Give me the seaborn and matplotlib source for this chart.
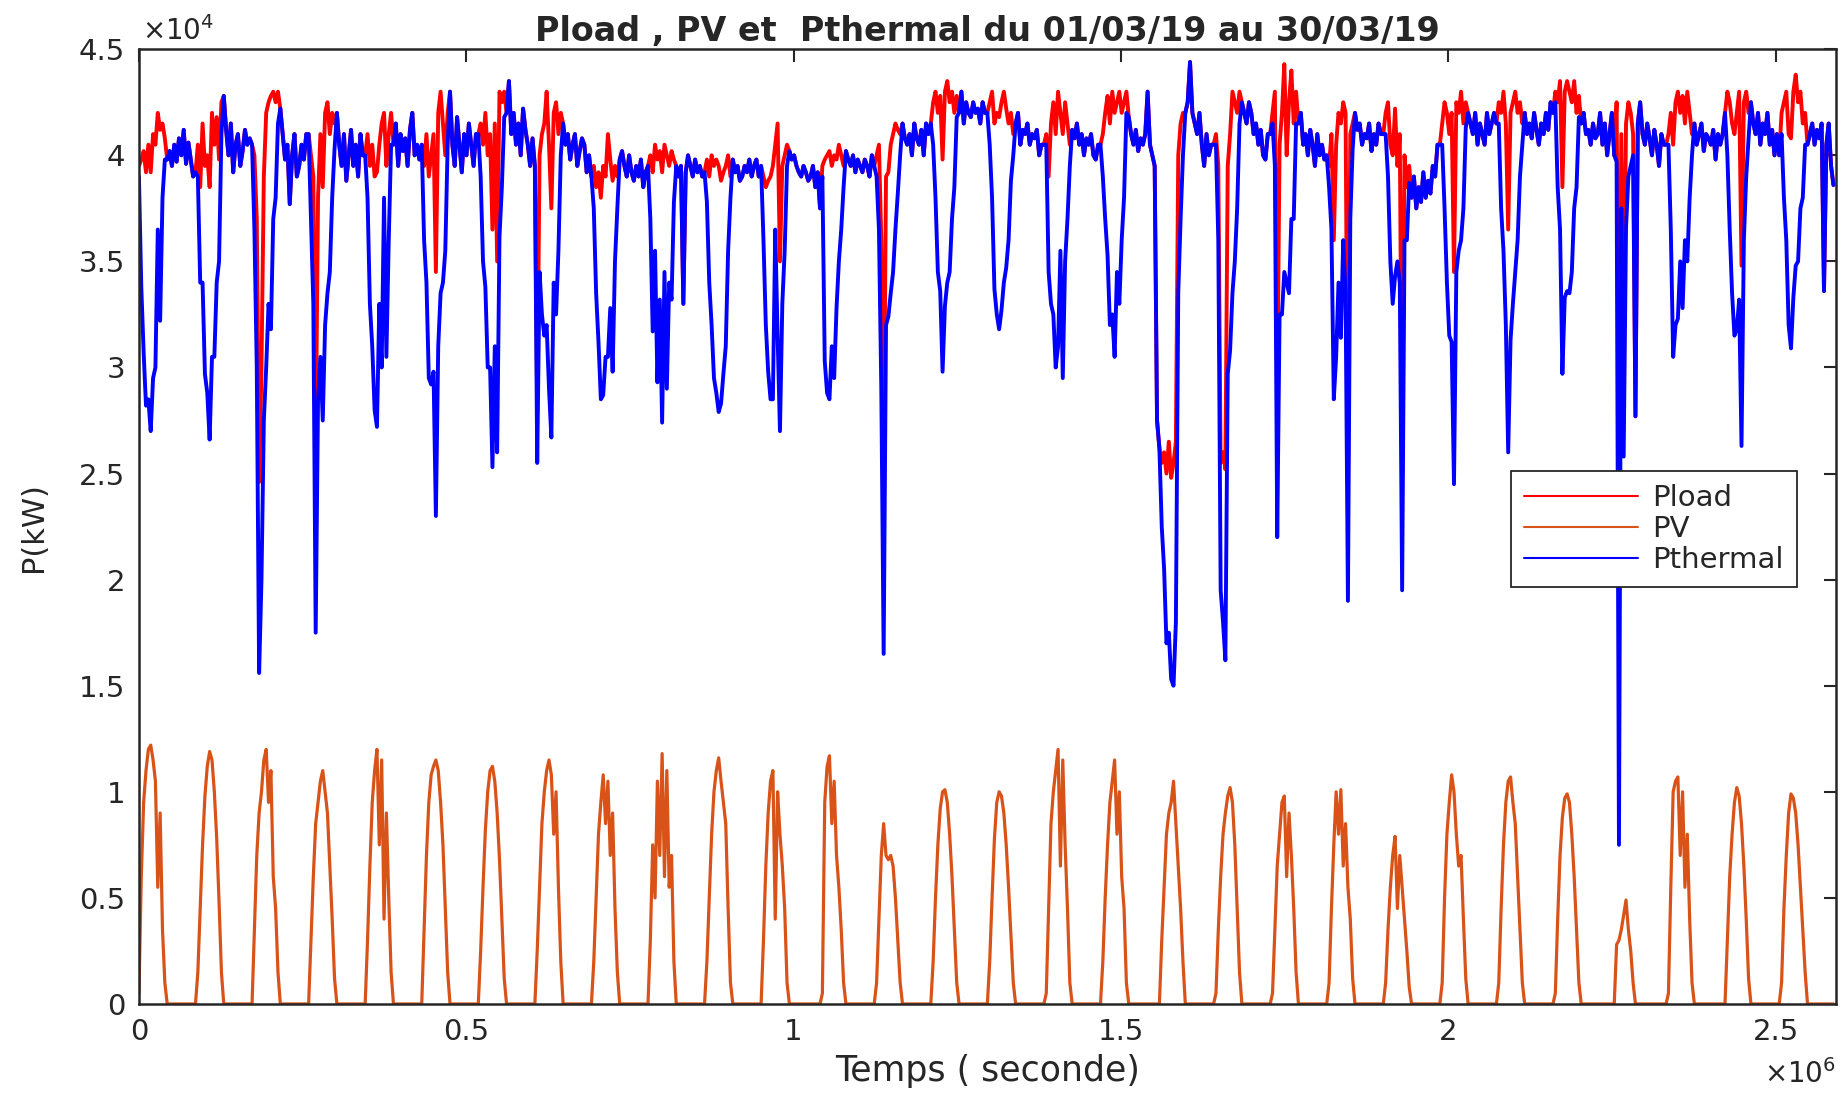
import numpy as np
import pandas as pd
import matplotlib
matplotlib.use('Agg')
import matplotlib.pyplot as plt
from matplotlib.ticker import FuncFormatter, MultipleLocator
import seaborn as sns

# Pload du 01/03 au 30/03, une valeur par heure (x 1e4 kW)
pload_jours = [
    [3.95, 3.98, 4.02, 3.92, 4.05, 3.92, 4.1, 4.05, 4.2, 4.12, 4.15, 4.08, 3.98, 4.02, 3.95, 4.05, 3.97, 4.08, 4.0, 4.12, 3.96, 4.06, 3.98, 3.9],
    [3.92, 4.05, 3.85, 4.15, 3.95, 4.0, 3.85, 4.2, 4.05, 4.18, 3.98, 4.25, 4.28, 4.12, 4.0, 4.15, 3.92, 4.05, 4.1, 3.95, 4.02, 4.12, 4.05, 4.08],
    [4.05, 4.0, 3.7, 2.46, 3.0, 3.9, 4.2, 4.25, 4.28, 4.3, 4.25, 4.3, 4.22, 4.1, 3.98, 4.05, 3.77, 4.0, 4.1, 3.9, 3.95, 4.05, 3.98, 4.1],
    [4.1, 4.0, 3.9, 2.6, 3.8, 4.1, 3.85, 4.2, 4.25, 4.1, 4.2, 4.15, 4.2, 4.05, 3.95, 4.1, 3.88, 4.0, 4.12, 3.95, 4.05, 3.9, 4.1, 4.0],
    [4.0, 4.1, 3.95, 4.05, 3.9, 3.92, 4.05, 4.15, 4.2, 3.95, 4.1, 4.2, 4.05, 4.15, 3.95, 4.1, 4.02, 4.08, 3.95, 4.12, 4.2, 4.0, 4.05, 3.98],
    [4.05, 3.95, 4.1, 3.9, 4.0, 4.1, 3.45, 4.2, 4.3, 4.15, 4.0, 4.2, 4.3, 4.05, 3.95, 4.18, 4.05, 3.92, 4.1, 4.0, 4.15, 4.05, 3.95, 4.1],
    [4.1, 4.15, 4.05, 4.2, 4.0, 4.1, 3.65, 4.15, 3.5, 4.3, 4.25, 4.3, 4.2, 4.35, 4.1, 4.2, 4.05, 4.15, 4.0, 4.22, 4.12, 4.05, 3.95, 4.08],
    [3.95, 2.8, 4.0, 4.1, 4.15, 4.3, 4.05, 3.75, 4.2, 4.25, 4.1, 4.2, 4.15, 4.05, 4.1, 3.98, 4.05, 4.1, 3.95, 4.02, 4.08, 4.05, 3.92, 4.0],
    [3.9, 3.95, 3.85, 3.92, 3.8, 3.95, 3.9, 4.1, 3.98, 3.88, 3.95, 3.9, 3.98, 4.02, 3.95, 3.9, 4.0, 3.92, 3.88, 3.95, 3.9, 3.98, 3.85, 3.92],
    [3.95, 4.0, 3.92, 4.05, 3.98, 4.02, 3.92, 4.05, 4.0, 3.95, 4.02, 3.98, 3.95, 3.9, 3.95, 3.3, 3.92, 4.0, 3.95, 3.9, 3.98, 3.92, 3.95, 3.9],
    [3.92, 3.98, 3.9, 4.0, 3.95, 3.98, 3.95, 3.88, 3.92, 3.95, 4.0, 3.9, 3.98, 3.92, 3.95, 3.88, 3.9, 3.95, 3.92, 3.98, 3.9, 3.95, 3.98, 3.9],
    [3.95, 3.9, 3.85, 3.88, 3.9, 3.95, 4.05, 4.15, 3.5, 3.95, 4.0, 4.05, 4.02, 3.98, 4.0, 3.95, 3.92, 3.9, 3.95, 3.92, 3.88, 3.9, 3.95, 3.85],
    [3.92, 3.75, 3.95, 3.98, 4.0, 4.02, 3.95, 4.0, 3.98, 4.05, 4.0, 3.95, 4.02, 3.98, 3.95, 4.0, 3.92, 3.98, 3.95, 3.92, 3.98, 3.95, 3.9, 4.0],
    [3.95, 4.0, 4.05, 3.6, 2.5, 3.9, 3.92, 4.05, 4.1, 4.15, 4.12, 4.1, 4.15, 4.08, 4.05, 4.1, 4.0, 4.15, 4.08, 4.05, 4.12, 4.0, 4.15, 4.1],
    [4.15, 4.25, 4.3, 4.2, 4.28, 3.98, 4.3, 4.35, 4.25, 4.3, 4.2, 4.28, 4.2, 4.3, 4.15, 4.25, 4.2, 4.18, 4.25, 4.2, 4.22, 4.15, 4.25, 4.2],
    [4.2, 4.25, 4.3, 4.15, 4.2, 4.18, 4.25, 4.3, 4.22, 4.15, 4.2, 4.1, 4.15, 4.2, 4.05, 4.12, 4.1, 4.15, 4.05, 4.1, 4.08, 4.12, 4.0, 4.05],
    [4.05, 4.1, 3.9, 4.15, 4.25, 4.1, 4.3, 4.2, 4.1, 4.25, 4.15, 4.05, 4.12, 4.08, 4.15, 4.05, 4.1, 4.0, 4.08, 4.05, 4.1, 4.0, 3.98, 4.05],
    [4.05, 4.1, 4.2, 4.28, 4.15, 4.3, 4.2, 4.25, 4.3, 4.2, 4.25, 4.3, 4.18, 4.1, 4.05, 4.12, 4.02, 4.08, 4.05, 4.1, 4.3, 4.05, 4.0, 3.95],
    [2.75, 2.62, 2.55, 2.6, 2.5, 2.65, 2.48, 2.55, 2.65, 4.0, 4.15, 4.2, 4.2, 4.25, 4.44, 4.2, 4.15, 4.1, 4.2, 4.05, 3.95, 4.1, 4.0, 4.05],
    [4.05, 4.1, 3.95, 2.55, 2.6, 2.52, 3.95, 4.1, 4.3, 4.25, 4.2, 4.3, 4.25, 4.2, 4.15, 4.25, 4.2, 4.1, 4.15, 4.05, 4.12, 4.0, 3.98, 4.1],
    [4.1, 4.2, 4.3, 2.85, 4.05, 4.2, 4.43, 4.0, 4.25, 4.4, 4.15, 4.3, 4.15, 4.2, 4.05, 4.1, 4.0, 4.12, 4.05, 3.95, 4.1, 4.0, 4.05, 3.98],
    [4.0, 3.95, 4.1, 3.6, 4.05, 4.2, 4.15, 4.25, 4.2, 2.45, 4.1, 4.15, 4.2, 4.12, 4.15, 4.05, 4.1, 4.08, 4.15, 4.02, 4.1, 4.05, 4.15, 4.1],
    [4.1, 4.2, 4.25, 4.05, 4.0, 4.22, 3.95, 4.1, 2.5, 4.0, 3.85, 3.95, 3.8, 3.9, 3.75, 3.85, 3.78, 3.92, 3.8, 3.88, 3.82, 3.95, 3.9, 4.05],
    [4.05, 4.15, 4.25, 4.2, 4.1, 4.2, 3.45, 4.25, 4.2, 4.3, 4.15, 4.25, 4.2, 4.15, 4.1, 4.2, 4.05, 4.15, 4.1, 4.05, 4.2, 4.1, 4.15, 4.2],
    [4.15, 4.25, 4.2, 4.3, 4.15, 3.65, 4.2, 4.25, 4.3, 4.2, 4.25, 4.15, 4.2, 4.1, 4.15, 4.08, 4.2, 4.12, 4.05, 4.15, 4.1, 4.2, 4.12, 4.25],
    [4.2, 4.3, 4.25, 4.35, 3.85, 4.3, 4.35, 4.3, 4.25, 4.35, 4.2, 4.28, 4.15, 4.2, 4.1, 4.12, 4.05, 4.15, 4.08, 4.1, 4.2, 4.05, 4.15, 4.0],
    [4.1, 4.2, 4.0, 4.25, 2.64, 4.1, 3.0, 4.15, 4.25, 4.2, 4.1, 2.77, 4.15, 4.25, 4.1, 4.05, 4.15, 4.08, 4.0, 4.12, 4.05, 3.95, 4.1, 4.05],
    [4.05, 4.1, 4.2, 4.05, 4.25, 4.3, 4.2, 4.28, 4.15, 4.3, 4.2, 4.1, 4.15, 4.05, 4.1, 4.15, 4.02, 4.1, 4.08, 4.05, 4.12, 3.98, 4.1, 4.05],
    [4.1, 4.2, 4.3, 4.25, 4.15, 4.1, 4.2, 4.3, 3.48, 4.25, 4.3, 4.2, 4.25, 4.15, 4.1, 4.2, 4.05, 4.15, 4.1, 4.2, 4.05, 4.12, 4.0, 4.1],
    [4.0, 4.2, 4.25, 4.3, 4.1, 4.08, 4.3, 4.38, 4.25, 4.3, 4.15, 4.2, 4.05, 4.1, 4.15, 4.05, 4.12, 4.08, 4.15, 3.36, 4.05, 4.15, 3.95, 3.86],
]

# PV : heures 0 a 12 de chaque jour, le reste de la journee vaut 0 (x 1e4 kW)
pv_jours = [
    [0.05, 0.6, 0.95, 1.1, 1.2, 1.22, 1.15, 1.05, 0.55, 0.9, 0.35, 0.1, 0.0],
    [0.0, 0.15, 0.45, 0.75, 0.98, 1.12, 1.19, 1.15, 1.0, 0.78, 0.48, 0.15, 0.0],
    [0.0, 0.35, 0.7, 0.9, 1.0, 1.15, 1.2, 0.95, 1.1, 0.6, 0.45, 0.15, 0.0],
    [0.0, 0.3, 0.6, 0.85, 0.95, 1.05, 1.1, 1.0, 0.9, 0.65, 0.4, 0.12, 0.0],
    [0.0, 0.3, 0.65, 0.95, 1.1, 1.2, 0.75, 1.15, 0.4, 0.9, 0.5, 0.15, 0.0],
    [0.0, 0.35, 0.7, 0.95, 1.08, 1.12, 1.15, 1.1, 0.95, 0.75, 0.45, 0.15, 0.0],
    [0.0, 0.25, 0.55, 0.82, 1.0, 1.1, 1.12, 1.05, 0.9, 0.68, 0.4, 0.12, 0.0],
    [0.0, 0.25, 0.55, 0.85, 1.0, 1.1, 1.15, 1.08, 0.8, 1.0, 0.55, 0.2, 0.0],
    [0.0, 0.2, 0.5, 0.8, 0.95, 1.08, 0.85, 1.05, 0.7, 0.9, 0.45, 0.15, 0.0],
    [0.0, 0.3, 0.75, 0.5, 1.05, 0.7, 1.18, 0.6, 1.1, 0.55, 0.7, 0.2, 0.0],
    [0.0, 0.2, 0.5, 0.8, 1.0, 1.1, 1.16, 1.05, 0.95, 0.85, 0.45, 0.1, 0.0],
    [0.0, 0.3, 0.65, 0.9, 1.05, 1.1, 0.4, 1.0, 0.8, 0.65, 0.45, 0.1, 0.0],
    [0.0, 0.0, 0.05, 0.95, 1.12, 1.17, 0.85, 1.05, 0.7, 0.55, 0.35, 0.1, 0.0],
    [0.0, 0.1, 0.4, 0.7, 0.85, 0.7, 0.68, 0.7, 0.65, 0.5, 0.3, 0.1, 0.0],
    [0.0, 0.2, 0.5, 0.75, 0.92, 1.0, 1.01, 0.95, 0.8, 0.6, 0.35, 0.1, 0.0],
    [0.0, 0.2, 0.5, 0.78, 0.95, 1.0, 0.98, 0.9, 0.75, 0.55, 0.32, 0.1, 0.0],
    [0.0, 0.05, 0.45, 0.85, 1.0, 1.1, 1.2, 0.65, 1.15, 0.75, 0.45, 0.1, 0.0],
    [0.0, 0.2, 0.5, 0.75, 0.95, 1.05, 1.15, 0.8, 1.0, 0.6, 0.45, 0.1, 0.0],
    [0.0, 0.0, 0.3, 0.55, 0.8, 0.9, 0.95, 1.05, 0.85, 0.65, 0.45, 0.2, 0.0],
    [0.0, 0.05, 0.35, 0.6, 0.8, 0.9, 0.98, 1.02, 0.95, 0.75, 0.45, 0.15, 0.0],
    [0.0, 0.05, 0.35, 0.65, 0.8, 0.95, 0.98, 0.6, 0.9, 0.7, 0.45, 0.15, 0.0],
    [0.0, 0.1, 0.45, 0.75, 1.0, 0.8, 1.01, 0.65, 0.85, 0.55, 0.4, 0.12, 0.0],
    [0.0, 0.1, 0.35, 0.55, 0.7, 0.79, 0.45, 0.7, 0.55, 0.4, 0.25, 0.08, 0.0],
    [0.0, 0.1, 0.5, 0.8, 0.95, 1.08, 1.0, 0.8, 0.65, 0.7, 0.4, 0.12, 0.0],
    [0.0, 0.1, 0.45, 0.75, 0.95, 1.05, 1.07, 0.95, 0.85, 0.6, 0.35, 0.1, 0.0],
    [0.0, 0.05, 0.4, 0.7, 0.88, 0.97, 0.99, 0.95, 0.8, 0.6, 0.35, 0.1, 0.0],
    [0.0, 0.0, 0.0, 0.28, 0.3, 0.35, 0.42, 0.49, 0.35, 0.25, 0.1, 0.0, 0.0],
    [0.0, 0.05, 0.55, 1.0, 1.05, 1.07, 0.7, 1.0, 0.55, 0.8, 0.4, 0.1, 0.0],
    [0.0, 0.0, 0.3, 0.6, 0.8, 0.95, 1.02, 0.98, 0.85, 0.65, 0.4, 0.12, 0.0],
    [0.0, 0.1, 0.45, 0.7, 0.9, 0.99, 0.97, 0.9, 0.75, 0.55, 0.35, 0.15, 0.0],
]

# points ou Pthermal ne vaut pas Pload - PV (heure, valeur x 1e4 kW)
pthermal_pics = {24 * 26 + 4: 0.75}

series = ['Pload', 'PV', 'Pthermal']
couleurs = ['#ff0000', '#d95319', '#0000ff']
epaisseurs = [2.8, 2.3, 2.8]

# construction des series horaires
nb_h = 24 * len(pload_jours)
t = np.arange(nb_h) * 3600.0
pload = np.concatenate(pload_jours) * 1e4
pv = np.zeros(nb_h)
for d, v in enumerate(pv_jours):
    pv[24 * d:24 * d + len(v)] = v
pv = pv * 1e4
pthermal = pload - pv
for h, v in pthermal_pics.items():
    pthermal[h] = v * 1e4

df = pd.concat([
    pd.DataFrame({'t': t, 'P': y, 'serie': nom})
    for nom, y in zip(series, [pload, pv, pthermal])
], ignore_index=True)

sns.set_theme(style='white')
plt.rcParams['font.family'] = ['DejaVu Sans']
plt.rcParams['mathtext.fontset'] = 'dejavusans'

fig, ax = plt.subplots(figsize=(18.45, 10.94), dpi=100)
fig.subplots_adjust(left=0.0753, right=0.995, bottom=0.0823, top=0.955)

sns.lineplot(data=df, x='t', y='P', hue='serie', hue_order=series,
             palette=couleurs, estimator=None, sort=False, lw=2.5, ax=ax)
for ln, w in zip(ax.lines, epaisseurs):
    ln.set_linewidth(w)

ax.set_xlim(0, 2.592e6)
ax.set_ylim(0, 4.5e4)
ax.xaxis.set_major_locator(MultipleLocator(0.5e6))
ax.yaxis.set_major_locator(MultipleLocator(0.5e4))
ax.xaxis.set_major_formatter(FuncFormatter(lambda v, p: f'{v / 1e6:g}'))
ax.yaxis.set_major_formatter(FuncFormatter(lambda v, p: f'{v / 1e4:g}'))
ax.tick_params(direction='in', length=9, width=1.5, top=True, right=True,
               labelsize=21, pad=10, colors='#262626')
for s in ax.spines.values():
    s.set_linewidth(1.8)
    s.set_color('#262626')

ax.text(0.002, 1.003, r'$\times\mathregular{10^{4}}$', transform=ax.transAxes,
        ha='left', va='bottom', fontsize=20, color='#262626')
ax.text(1.0, -0.058, r'$\times\mathregular{10^{6}}$', transform=ax.transAxes,
        ha='right', va='top', fontsize=20, color='#262626')

ax.set_xlabel('Temps ( seconde)', fontsize=25, color='#262626', labelpad=6)
ax.set_ylabel('P(kW)', fontsize=22, color='#262626', labelpad=22)
ax.set_title('Pload , PV et  Pthermal du 01/03/19 au 30/03/19',
             fontsize=24, fontweight='bold', pad=6)

h, l = ax.get_legend_handles_labels()
leg = ax.legend(h, l, loc='upper right', bbox_to_anchor=(0.977, 0.558),
                borderaxespad=0, fontsize=21, handlelength=3.9,
                handletextpad=0.5, labelspacing=0.1, borderpad=0.45,
                fancybox=False, framealpha=1, edgecolor='#262626')
leg.get_frame().set_linewidth(1.3)
for ln in leg.get_lines():
    ln.set_linewidth(1.5)

fig.savefig('out.png', dpi=100)
